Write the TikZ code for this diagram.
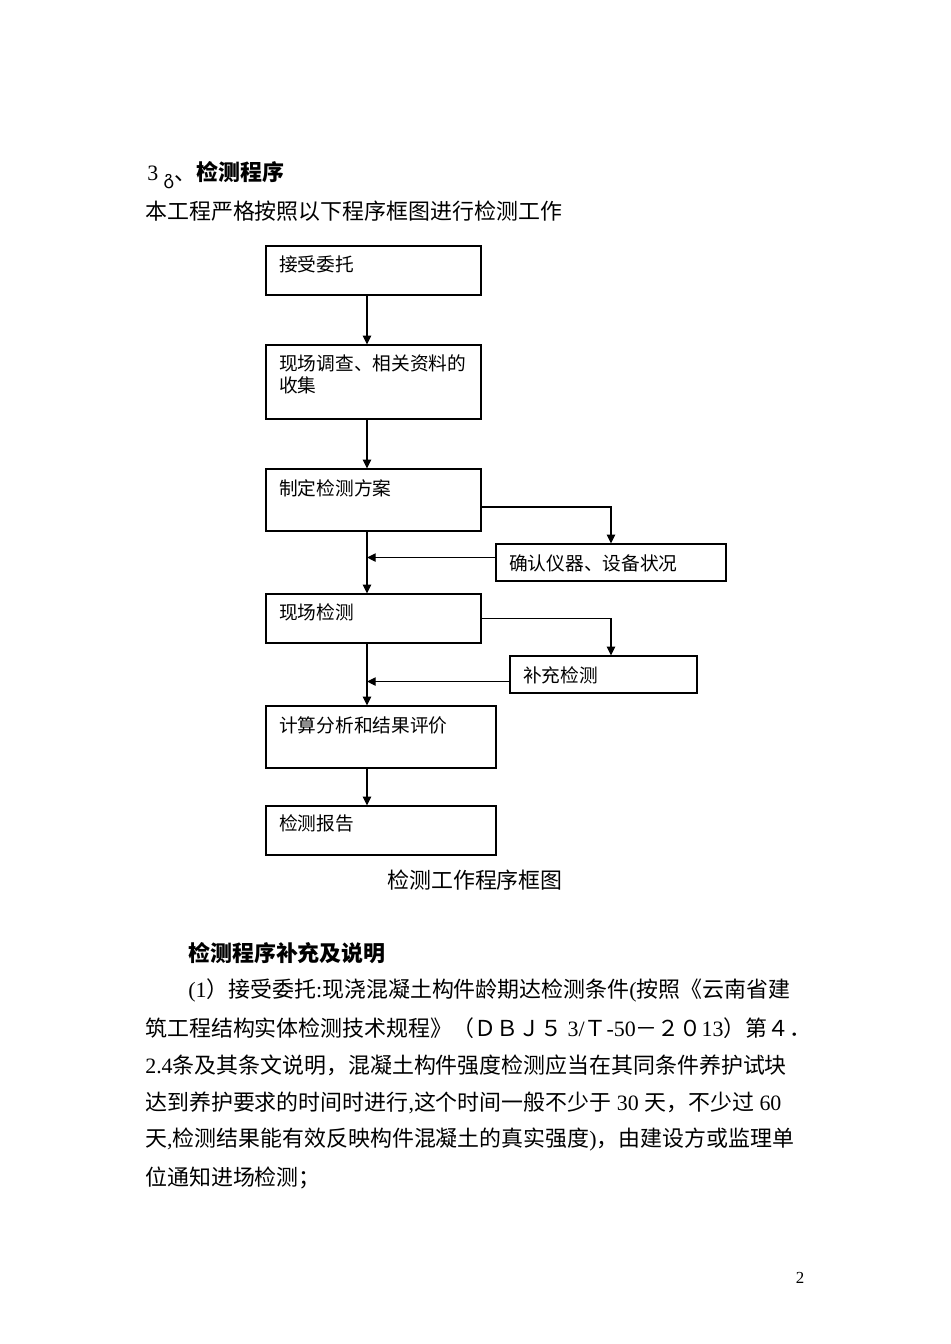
\documentclass[tikz,border=0pt]{standalone}
\usepackage{fontspec}
\setmainfont{Liberation Serif}
\newfontfamily\cjk{Noto Sans CJK SC}
\newfontfamily\lat{Liberation Serif}
\newfontfamily\geo{DejaVu Sans}
\usetikzlibrary{arrows.meta,calc}
\newcommand{\px}{0.025cm}
\tikzset{
  box/.style={draw, line width=0.8pt, inner sep=0pt},
  boxtext/.style={font=\cjk\fontsize{13.3}{15.6}\selectfont, inner sep=0pt, anchor=west, align=left},
  bodytext/.style={font=\cjk\fontsize{15.6}{18}\selectfont, inner sep=0pt, anchor=west},
  flow/.style={draw, line width=0.8pt, -{Triangle[length=6.2pt,width=6pt]}},
}

\begin{document}
\begin{tikzpicture}[x=\px,y=-\px]
\useasboundingbox[fill=white] (0,0) rectangle (950,1344);
% heading and intro
\node[bodytext] (title) at (147,175) {{\lat 3\ }\raisebox{-2.5pt}{\geo\fontsize{13}{13}\selectfont გ}、\bfseries 检测程序};
\node[bodytext] (intro) at (145,211) {本工程严格按照以下程序框图进行检测工作};
% boxes
\node[box, minimum width=215*\px, minimum height=49*\px] (accept) at (373.5,270.5) {};%1
\node[box, minimum width=215*\px, minimum height=74*\px] (survey) at (373.5,382) {};%2
\node[box, minimum width=215*\px, minimum height=62*\px] (plan) at (373.5,500) {};%3
\node[box, minimum width=230*\px, minimum height=37*\px] (confirm) at (611,562.5) {};%side 1
\node[box, minimum width=215*\px, minimum height=49*\px] (onsite) at (373.5,618.5) {};%4
\node[box, minimum width=187*\px, minimum height=37*\px] (supp) at (603.5,674.5) {};%side 2
\node[box, minimum width=230*\px, minimum height=62*\px] (analyse) at (381,737) {};%5
\node[box, minimum width=230*\px, minimum height=49*\px] (report) at (381,830.5) {};%6
% box texts
\node[boxtext] (acceptT) at (279,264) {接受委托};
\node[boxtext] (surveyT) at (279,374) {现场调查、相关资料的\\收集};
\node[boxtext] (planT) at (279,488) {制定检测方案};
\node[boxtext] (confirmT) at (509,563) {确认仪器、设备状况};
\node[boxtext] (onsiteT) at (279,612) {现场检测};
\node[boxtext] (suppT) at (523,675) {补充检测};
\node[boxtext] (analyseT) at (279,725) {计算分析和结果评价};
\node[boxtext] (reportT) at (279,823) {检测报告};
% connectors
\coordinate (spine) at (367,0);
\coordinate (cin) at ($(confirm.west)+(0,-5)$);
\coordinate (sin) at ($(supp.west)+(0,7)$);
\coordinate (sdrop) at ($(supp.north)+(7.5,0)$);
\draw[flow] (accept.south -| spine) -- (survey.north -| spine);
\draw[flow] (survey.south -| spine) -- (plan.north -| spine);
\draw[flow] (plan.south -| spine) -- (onsite.north -| spine);
\draw[flow] ($(plan.east)+(0,7)$) -| (confirm.north);
\draw[flow] (cin) -- (cin -| spine);
\draw[flow] (onsite.east) -| (sdrop);
\draw[flow] (sin) -- (sin -| spine);
\draw[flow] (onsite.south -| spine) -- (analyse.north -| spine);
\draw[flow] (analyse.south -| spine) -- (report.north -| spine);
% caption
\node[bodytext, anchor=center] (caption) at (475,880) {检测工作程序框图};
% notes
\node[bodytext] (notes) at (188,953) {\bfseries 检测程序补充及说明};
\node[bodytext] (line1) at (188,990) {{\lat (1}）接受委托{\lat :}现浇混凝土构件龄期达检测条件{\lat (}按照《云南省建};
\node[bodytext] (line2) at (145,1028) {筑工程结构实体检测技术规程》（ＤＢＪ５{\lat\ 3/}Ｔ{\lat -50}－２０{\lat 13}）第４．};
\node[bodytext] (line3) at (145,1065) {{\lat 2.4}条及其条文说明，混凝土构件强度检测应当在其同条件养护试块};
\node[bodytext] (line4) at (145,1103) {达到养护要求的时间时进行{\lat ,}这个时间一般不少于{\lat\ 30\ }天，不少过{\lat\ 60}};
\node[bodytext] (line5) at (145,1140) {天{\lat ,}检测结果能有效反映构件混凝土的真实强度{\lat )}，由建设方或监理单};
\node[bodytext] (line6) at (145,1178) {位通知进场检测；};
% page number
\node[font=\lat\fontsize{12}{12}\selectfont, inner sep=0pt] (pageno) at (800,1278) {2};
\end{tikzpicture}
\end{document}
